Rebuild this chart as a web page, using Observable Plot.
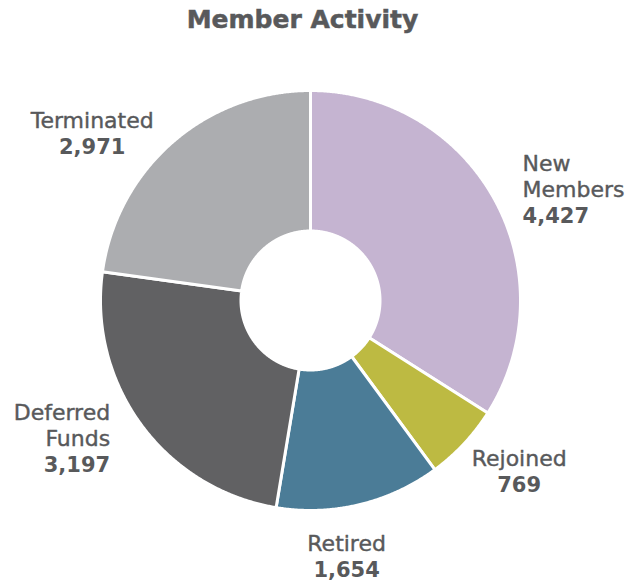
<!DOCTYPE html>
<html><head><meta charset="utf-8">
<script src="https://cdn.jsdelivr.net/npm/d3@7"></script>
<script src="https://cdn.jsdelivr.net/npm/@observablehq/plot@0.6"></script>
<style>
body{margin:0;background:#fff;font-family:"DejaVu Sans",sans-serif;}
#title{width:605px;height:40px;text-align:center;font-weight:bold;font-size:25px;color:#58595b;line-height:40px;-webkit-text-stroke:0.5px #58595b;}
</style></head><body>
<div id="title">Member Activity</div>
<div id="chart"></div>
<script>
// ---- data ----
const categories = ["New Members", "Rejoined", "Retired", "Deferred Funds", "Terminated"];
const labelNames = ["New\nMembers", "Rejoined", "Retired", "Deferred\nFunds", "Terminated"];
const values = [4427, 769, 1654, 3197, 2971];

// ---- style ----
const palette = ["#c5b4d1", "#bdba42", "#4b7c97", "#616163", "#acadb0"];
const textColor = "#58595b";
const W = 632, H = 544;
const cx = 310, cy = 260;
const outerR = 210, innerR = 69.5, labelR = 250;
const labelStyle = {
  "New Members":    {anchor: "start",  dx: -7,  dy: 17},
  "Rejoined":       {anchor: "middle", dx: 26,  dy: -5},
  "Retired":        {anchor: "middle", dx: -22, dy: 7},
  "Deferred Funds": {anchor: "end",    dx: 1,   dy: -3},
  "Terminated":     {anchor: "middle", dx: -54, dy: 16}
};

const arcs = d3.pie().sort(null).value(d => d)(values);

// polygon points for each slice
const pts = [];
arcs.forEach((a, i) => {
  const n = Math.max(4, Math.ceil((a.endAngle - a.startAngle) / 0.005));
  for (let k = 0; k <= n; k++) {
    const t = a.startAngle + (a.endAngle - a.startAngle) * k / n;
    pts.push({cat: categories[i], x: outerR * Math.sin(t), y: -outerR * Math.cos(t)});
  }
  for (let k = n; k >= 0; k--) {
    const t = a.startAngle + (a.endAngle - a.startAngle) * k / n;
    pts.push({cat: categories[i], x: innerR * Math.sin(t), y: -innerR * Math.cos(t)});
  }
});

const labels = arcs.map((a, i) => {
  const m = (a.startAngle + a.endAngle) / 2;
  return {cat: categories[i], name: labelNames[i], value: d3.format(",")(values[i]),
          x: labelR * Math.sin(m), y: -labelR * Math.cos(m)};
});

const textMarks = [];
labels.forEach(d => {
  const s = labelStyle[d.cat];
  textMarks.push(Plot.text([d], {x: "x", y: "y", text: "name", textAnchor: s.anchor,
    lineAnchor: "bottom", lineHeight: 1.18, dx: s.dx, dy: s.dy, fontSize: 22, fill: textColor,
    stroke: textColor, strokeWidth: 0.4}));
  textMarks.push(Plot.text([d], {x: "x", y: "y", text: "value", textAnchor: s.anchor,
    lineAnchor: "bottom", dx: s.dx, dy: s.dy + 26, fontSize: 21, fontWeight: "bold", fill: textColor}));
});

const chart = Plot.plot({
  width: W, height: H,
  margin: 0,
  x: {domain: [-cx, W - cx], axis: null},
  y: {domain: [H - cy, -cy], axis: null},
  color: {domain: categories, range: palette},
  style: {fontFamily: "DejaVu Sans, sans-serif", background: "#fff"},
  marks: [
    Plot.line(pts, {x: "x", y: "y", z: "cat", fill: "cat", stroke: "white", strokeWidth: 3, curve: "linear-closed"}),
    ...textMarks
  ]
});
document.getElementById("chart").appendChild(chart);
</script>
</body></html>
